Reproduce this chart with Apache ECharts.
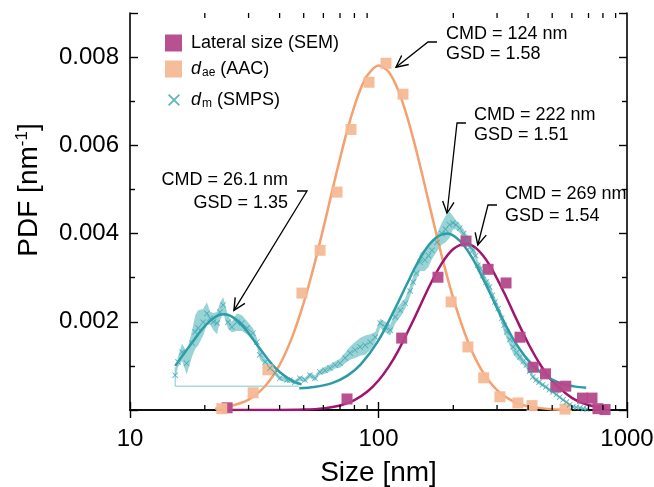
<!DOCTYPE html>
<html>
<head>
<meta charset="utf-8">
<script src="https://cdn.jsdelivr.net/npm/echarts@6/dist/echarts.min.js"></script>
<style>html,body{margin:0;padding:0;background:#fff;}#c{width:654px;height:487px;}</style>
</head>
<body>
<div id="c"></div>
<script>
// ---------- data ----------
const xTickLabels = ['10', '100', '1000'];
const yTickLabels = ['0.002', '0.004', '0.006', '0.008'];
const minorXTicks = [20, 30, 40, 50, 60, 70, 80, 90, 200, 300, 400, 500, 600, 700, 800, 900];

// SEM lateral size (squares)
const semX = [24.6, 74.7, 124, 173.5, 225, 276, 326, 371, 419, 470, 517, 567, 662, 723, 764, 816];
const semY = [0.00005, 0.00025, 0.00163, 0.00301, 0.00383, 0.00319, 0.00288, 0.00165, 0.00097, 0.00082, 0.00052, 0.00054, 0.00027, 0.00027, 0.00003, 0.00001];

// AAC aerodynamic size (squares)
const aacX = [23.4, 31.3, 35.9, 49.2, 58.2, 68.1, 77.5, 91.6, 107.2, 125.5, 196, 229, 265, 308, 364, 415, 563];
const aacY = [0.00003, 0.00039, 0.00091, 0.00265, 0.00362, 0.00494, 0.00636, 0.00743, 0.00786, 0.00716, 0.00245, 0.00143, 0.00073, 0.00030, 0.00016, 0.00010, 0.00002];

// SMPS mobility size (crosses) with uncertainty band half-width
const smpsX = [15.2, 15.6, 16.2, 16.9, 17.8, 18.3, 18.8, 19.7, 20.4, 21.0, 21.7, 22.4, 23.0, 23.7, 24.8, 25.7, 26.9, 28.2, 29.6, 31.2, 32.4, 33.3, 35.0, 36.6, 38.3, 40.1, 42.8, 44.0, 46.1, 48.3, 50.6, 53.0, 55.5, 58.1, 60.9, 63.8, 66.9, 70.0, 73.4, 76.9, 80.5, 84.3, 88.4, 92.6, 97.0, 101.6, 106.4, 111.5, 116.8, 122.4, 128.2, 134, 137.7, 142, 147, 153.7, 159, 164, 172, 180, 186, 193, 199.5, 205, 212, 220, 228, 234, 240, 246, 251, 257, 263, 271, 280, 287, 294, 303, 313, 320, 328, 338, 348, 359, 371, 382, 394, 406, 418, 430, 443, 457, 471, 487, 504, 520, 536, 553, 570, 588, 606, 626, 647, 667, 688];
const smpsY = [0.00079, 0.00109, 0.00131, 0.00106, 0.00152, 0.00177, 0.00186, 0.00199, 0.00219, 0.00208, 0.00200, 0.00197, 0.00222, 0.00238, 0.00199, 0.00188, 0.00199, 0.00197, 0.00186, 0.00174, 0.00154, 0.00125, 0.00109, 0.00095, 0.00084, 0.00072, 0.00068, 0.00068, 0.00063, 0.00072, 0.00068, 0.00079, 0.00072, 0.00086, 0.00090, 0.00095, 0.00102, 0.00106, 0.00118, 0.00129, 0.00136, 0.00143, 0.00147, 0.00154, 0.00165, 0.00197, 0.00188, 0.00181, 0.00211, 0.00226, 0.00242, 0.00270, 0.00290, 0.00310, 0.00335, 0.00340, 0.00350, 0.00362, 0.00380, 0.00400, 0.00410, 0.00420, 0.00424, 0.00420, 0.00412, 0.00400, 0.00385, 0.00370, 0.00362, 0.00350, 0.00328, 0.00320, 0.00305, 0.00290, 0.00279, 0.00260, 0.00245, 0.00230, 0.00208, 0.00192, 0.00177, 0.00160, 0.00143, 0.00130, 0.00120, 0.00110, 0.00102, 0.00088, 0.00075, 0.00068, 0.00063, 0.00057, 0.00052, 0.00046, 0.00041, 0.00035, 0.00029, 0.00023, 0.00018, 0.00012, 0.00007, 0.00006, 0.00005, 0.00003, 0.00002];
const smpsErr = [0.0001, 0.00012, 0.0002, 0.00025, 0.0003, 0.00038, 0.0004, 0.0003, 0.00025, 0.00015, 0.0002, 0.00025, 0.0002, 0.00018, 0.00015, 0.00012, 0.0002, 0.00018, 0.00015, 0.00012, 0.0001, 0.0001, 0.00008, 0.00008, 0.00006, 0.00005, 0.00005, 0.00005, 0.00005, 0.00005, 0.00005, 0.00006, 0.00006, 0.00006, 0.00008, 0.00008, 0.00008, 0.0001, 0.00012, 0.00015, 0.00018, 0.0002, 0.00022, 0.00018, 0.00012, 0.0001, 0.00012, 0.00012, 0.00015, 0.00015, 0.00012, 0.00012, 0.00012, 0.00015, 0.0002, 0.00025, 0.00025, 0.0002, 0.0002, 0.00025, 0.0003, 0.0003, 0.00015, 0.0001, 0.0001, 0.0001, 0.0001, 0.0001, 0.0001, 0.0001, 0.0001, 0.0001, 0.0001, 0.0001, 0.0001, 0.0001, 0.0001, 0.0001, 0.00012, 0.00015, 0.00015, 0.00015, 0.00015, 0.00012, 0.0001, 0.00008, 0.00008, 0.00006, 0.00005, 0.00005, 0.00005, 0.00004, 0.00004, 0.00004, 0.00003, 0.00003, 0.00003, 0.00003, 0.00003, 0.00003, 0.00003, 0.00002, 0.00002, 0.00002, 0.00002];

// Fitted curves
const aacFitX = [22, 25, 30, 35, 40, 45, 50, 55, 60, 65, 70, 75, 80, 85, 90, 100, 110, 120, 130, 140, 150, 160, 170, 180, 200, 230, 260, 300, 350, 400, 500, 600];
const aacFitY = [0.00003, 0.000076, 0.000236, 0.000544, 0.001023, 0.001664, 0.002428, 0.003267, 0.004124, 0.00495, 0.005703, 0.006356, 0.006888, 0.007298, 0.007581, 0.007809, 0.007663, 0.007249, 0.006674, 0.006015, 0.005332, 0.004667, 0.004045, 0.003477, 0.002526, 0.001523, 0.000905, 0.00045, 0.00019, 0.000082, 0.0000167, 0.0000038];

const semFitX = [24, 40, 50, 60, 70, 80, 90, 100, 110, 120, 140, 160, 180, 200, 225, 250, 280, 320, 360, 400, 450, 500, 600, 700, 820];
const semFitY = [0.0, 0.0000014, 0.0000093, 0.000037, 0.000102, 0.000224, 0.000412, 0.000669, 0.000984, 0.001341, 0.002102, 0.0028, 0.003329, 0.00365, 0.00377, 0.003642, 0.003285, 0.002663, 0.002044, 0.001514, 0.001009, 0.000659, 0.000274, 0.000114, 0.00004];

const smpsFit1X = [15.2, 16.5, 18, 19.5, 21, 22.5, 24, 25.5, 27, 29, 31, 33, 35, 37.5, 40, 43, 46, 49];
const smpsFit1Y = [0.00100, 0.00128, 0.00157, 0.00183, 0.00202, 0.00214, 0.00217, 0.00213, 0.00203, 0.00185, 0.00163, 0.00142, 0.00123, 0.00102, 0.00086, 0.00073, 0.00063, 0.00058];

const smpsFit2X = [48, 55, 65, 75, 85, 100, 115, 130, 145, 160, 175, 190, 205, 220, 240, 260, 280, 300, 330, 360, 400, 450, 500, 560, 620, 685];
const smpsFit2Y = [0.000495, 0.000522, 0.00061, 0.000779, 0.00104, 0.00158, 0.00223, 0.00285, 0.00338, 0.00375, 0.00395, 0.0040, 0.00391, 0.00374, 0.00342, 0.00304, 0.00267, 0.00231, 0.00185, 0.00148, 0.00113, 0.00085, 0.00069, 0.00058, 0.00053, 0.000505];

const baseX = [15.2, 15.2, 48];
const baseY = [0.00097, 0.00054, 0.00054];

// annotations
const annLines = [['CMD = 124 nm', 'GSD = 1.58'], ['CMD = 222 nm', 'GSD = 1.51'], ['CMD = 269 nm', 'GSD = 1.54'], ['CMD = 26.1 nm', 'GSD = 1.35']];
const annTips = [[117.6, 0.00777], [188.7, 0.00446], [251, 0.00374], [26.2, 0.00226]];

// ---------- layout / style ----------
const FONT = '"Liberation Sans", Arial, Helvetica, sans-serif';
const C_SEM_LINE = '#a0156d', C_SEM_PT = '#b5488b';
const C_AAC_LINE = '#f4a06f', C_AAC_PT = '#f6b996';
const C_SMPS_LINE = '#2b9ca6', C_SMPS_PT = '#3aa3ad', C_BAND = '#98d3d6';
const CROSS = 'path://M1,0 L5,4 L9,0 L10,1 L6,5 L10,9 L9,10 L5,6 L1,10 L0,9 L4,5 L0,1 Z';
const YMAX = 0.009;

const zip = (xs, ys) => xs.map((x, i) => [x, ys[i]]);

const chart = echarts.init(document.getElementById('c'), null, {renderer: 'canvas'});

const axisLineStyle = {color: '#000', width: 1.6};
const tickStyle = {color: '#000', width: 1.4};

const richLegend = {
  t: {fontSize: 18, fontFamily: FONT, color: '#000', lineHeight: 20},
  i: {fontSize: 18, fontFamily: FONT, color: '#000', fontStyle: 'italic', lineHeight: 20},
  sub: {fontSize: 12, fontFamily: FONT, color: '#000', lineHeight: 12, verticalAlign: 'bottom', padding: [6, 0, 0, 1]}
};

const option = {
  animation: false,
  backgroundColor: '#fff',
  grid: {left: 130, right: 27, top: 13, bottom: 77, containLabel: false, outerBoundsMode: 'none'},
  legend: [
    {
      data: [{name: 'Lateral size (SEM)', icon: 'rect'}, {name: 'AAC', icon: 'rect'}],
      orient: 'vertical', left: 160, top: 29, itemWidth: 17, itemHeight: 17, itemGap: 8,
      textStyle: {fontSize: 18, fontFamily: FONT, color: '#000', padding: [0, 0, 0, 4], rich: richLegend},
      formatter: n => n === 'AAC' ? '{i|d}{sub|ae}{t| (AAC)}' : '{t|' + n + '}'
    },
    {
      data: [{name: 'SMPS', icon: CROSS}],
      orient: 'vertical', left: 163, top: 86, itemWidth: 12, itemHeight: 12,
      textStyle: {fontSize: 18, fontFamily: FONT, color: '#000', padding: [0, 0, 0, 6], rich: richLegend},
      formatter: () => '{i|d}{sub|m}{t| (SMPS)}'
    }
  ],
  xAxis: [
    {
      type: 'log', logBase: 10, min: 10, max: 1000, position: 'bottom',
      axisLine: {lineStyle: axisLineStyle}, axisTick: {inside: true, length: 8, lineStyle: tickStyle},
      splitLine: {show: false},
      axisLabel: {fontSize: 24, fontFamily: FONT, color: '#000', margin: 17,
        formatter: v => { const k = Math.round(Math.log10(v)) - 1; return xTickLabels[k] || ''; }},
      name: 'Size [nm]', nameLocation: 'middle', nameGap: 49,
      nameTextStyle: {fontSize: 28, fontFamily: FONT, color: '#000'}
    },
    {
      type: 'log', logBase: 10, min: 10, max: 1000, position: 'top',
      axisLine: {lineStyle: axisLineStyle}, axisTick: {inside: true, length: 8, lineStyle: tickStyle},
      axisLabel: {show: false}, splitLine: {show: false}
    }
  ],
  yAxis: [
    {
      type: 'value', min: 0, max: YMAX, interval: 0.002, position: 'left',
      axisLine: {show: true, lineStyle: axisLineStyle}, axisTick: {show: true, inside: true, length: 8, lineStyle: tickStyle},
      minorTick: {show: true, splitNumber: 2, length: 5, lineStyle: tickStyle},
      splitLine: {show: false},
      axisLabel: {fontSize: 24, fontFamily: FONT, color: '#000', margin: 11,
        formatter: v => { const k = Math.round(v / 0.002) - 1; return (v > 0 && v < 0.0085) ? (yTickLabels[k] || '') : ''; }}
    },
    {
      type: 'value', min: 0, max: YMAX, interval: 0.002, position: 'right',
      axisLine: {show: true, lineStyle: axisLineStyle}, axisTick: {show: true, inside: true, length: 8, lineStyle: tickStyle},
      minorTick: {show: true, splitNumber: 2, length: 5, lineStyle: tickStyle},
      splitLine: {show: false}, axisLabel: {show: false}
    }
  ],
  series: [
    { // minor log ticks on bottom and top
      type: 'custom', name: 'minorTicks', silent: true, z: 10,
      data: minorXTicks.map(v => [v, 0]),
      renderItem: (params, api) => {
        const v = api.value(0);
        const b = api.coord([v, 0]);
        const t = api.coord([v, YMAX]);
        return {type: 'group', children: [
          {type: 'line', shape: {x1: b[0], y1: b[1], x2: b[0], y2: b[1] - 5}, style: {stroke: '#000', lineWidth: 1.3}},
          {type: 'line', shape: {x1: t[0], y1: t[1], x2: t[0], y2: t[1] + 5}, style: {stroke: '#000', lineWidth: 1.3}}
        ]};
      }
    },
    { // SMPS uncertainty band
      type: 'custom', name: 'band', silent: true, z: 1,
      data: [[smpsX[0], smpsY[0]]],
      renderItem: (params, api) => {
        const pts = [];
        for (let i = 0; i < smpsX.length; i++) pts.push(api.coord([smpsX[i], smpsY[i] + smpsErr[i]]));
        for (let i = smpsX.length - 1; i >= 0; i--) pts.push(api.coord([smpsX[i], Math.max(smpsY[i] - smpsErr[i], 0.000001)]));
        return {type: 'polygon', shape: {points: pts}, style: {fill: C_BAND}};
      }
    },
    {type: 'line', name: 'base', data: zip(baseX, baseY), symbol: 'none', z: 2, silent: true,
      lineStyle: {color: '#7ccbcf', width: 1}},
    {type: 'line', name: 'aacFit', data: zip(aacFitX, aacFitY), symbol: 'none', smooth: 0.3, z: 3, silent: true,
      lineStyle: {color: C_AAC_LINE, width: 2.5}},
    {type: 'line', name: 'semFit', data: zip(semFitX, semFitY), symbol: 'none', smooth: 0.3, z: 3, silent: true,
      lineStyle: {color: C_SEM_LINE, width: 2.5}},
    {type: 'line', name: 'smpsFit1', data: zip(smpsFit1X, smpsFit1Y), symbol: 'none', smooth: 0.3, z: 3, silent: true,
      lineStyle: {color: C_SMPS_LINE, width: 2.5}},
    {type: 'line', name: 'smpsFit2', data: zip(smpsFit2X, smpsFit2Y), symbol: 'none', smooth: 0.3, z: 3, silent: true,
      lineStyle: {color: C_SMPS_LINE, width: 2.5}},
    {type: 'scatter', name: 'Lateral size (SEM)', data: zip(semX, semY), symbol: 'rect', symbolSize: 11, z: 4,
      itemStyle: {color: C_SEM_PT, opacity: 0.95}},
    {type: 'scatter', name: 'AAC', data: zip(aacX, aacY), symbol: 'rect', symbolSize: 11, z: 4,
      itemStyle: {color: C_AAC_PT, opacity: 0.95}},
    {type: 'scatter', name: 'SMPS', data: zip(smpsX, smpsY), symbol: CROSS, symbolSize: 6, z: 5,
      itemStyle: {color: C_SMPS_PT}}
  ]
};

chart.setOption(option);

// ---------- annotations ----------
const annLayout = [
  {tx: 446, ty: [34, 54], align: 'left', leader: [[437, 42], [428, 42]]},
  {tx: 474, ty: [115, 135], align: 'left', leader: [[466, 123], [457, 123]]},
  {tx: 505, ty: [194, 216], align: 'left', leader: [[497, 205], [488, 205]]},
  {tx: 288, ty: [180, 203], align: 'right', leader: [[297, 191], [307, 191]]}
];
const graphics = [];
annLines.forEach((lines, k) => {
  const L = annLayout[k];
  lines.forEach((s, j) => graphics.push({
    type: 'text', x: L.tx, y: L.ty[j], silent: true,
    style: {text: s, fontSize: 18, fontFamily: FONT, fill: '#000', align: L.align, verticalAlign: 'middle'}
  }));
  const tip = chart.convertToPixel({xAxisIndex: 0, yAxisIndex: 0}, annTips[k]);
  const pts = L.leader.concat([tip]);
  graphics.push({type: 'polyline', silent: true, shape: {points: pts}, style: {stroke: '#000', lineWidth: 1.3, fill: null}});
  const prev = L.leader[L.leader.length - 1];
  const dx = tip[0] - prev[0], dy = tip[1] - prev[1];
  const len = Math.hypot(dx, dy), ux = dx / len, uy = dy / len;
  const a = 26 * Math.PI / 180, h = 13;
  const w1 = [tip[0] - h * (ux * Math.cos(a) - uy * Math.sin(a)), tip[1] - h * (uy * Math.cos(a) + ux * Math.sin(a))];
  const w2 = [tip[0] - h * (ux * Math.cos(a) + uy * Math.sin(a)), tip[1] - h * (uy * Math.cos(a) - ux * Math.sin(a))];
  graphics.push({type: 'polyline', silent: true, shape: {points: [w1, tip, w2]}, style: {stroke: '#000', lineWidth: 1.4, fill: null}});
});
// y-axis title
graphics.push({
  type: 'text', x: 29, y: 190, rotation: Math.PI / 2, silent: true,
  style: {
    text: '{a|PDF [nm}{s|-1}{a|]}', align: 'center', verticalAlign: 'middle',
    rich: {
      a: {fontSize: 28, fontFamily: FONT, fill: '#000', color: '#000', lineHeight: 30},
      s: {fontSize: 17, fontFamily: FONT, fill: '#000', color: '#000', lineHeight: 16, verticalAlign: 'top'}
    }
  }
});
chart.setOption({graphic: graphics});
</script>
</body>
</html>
